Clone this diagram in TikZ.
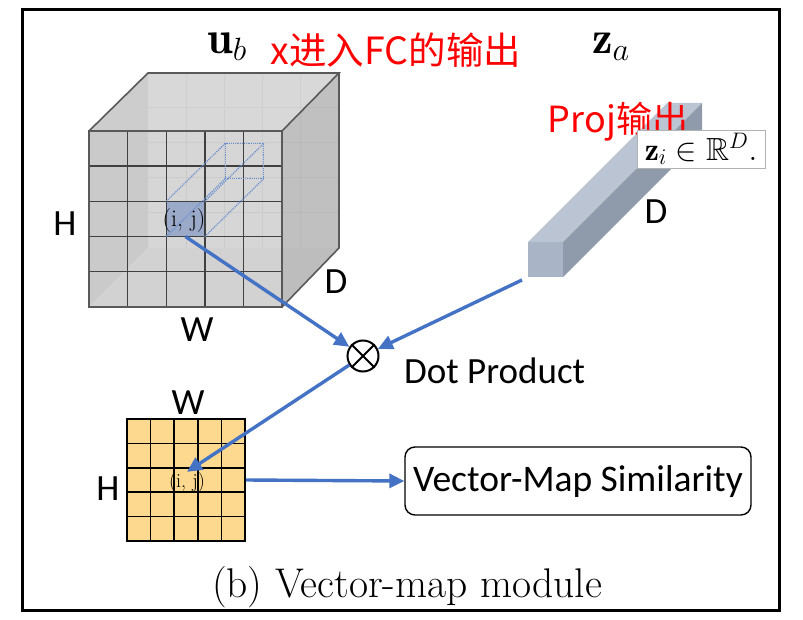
\RequirePackage{fix-cm}
\documentclass[tikz,border=0pt]{standalone}
\usepackage{fontspec}
\usepackage{amsmath,amssymb}
\usetikzlibrary{arrows.meta}
\newfontfamily\carl{Carlito}
\newfontfamily\cjk{Noto Sans CJK SC}
\definecolor{arrowblue}{HTML}{4472C4}
\definecolor{cellblue}{HTML}{9CAACA}
\definecolor{mapfill}{HTML}{FDD88F}
\definecolor{barfront}{HTML}{A9B4C6}
\definecolor{bartop}{HTML}{BAC4D2}
\definecolor{barside}{HTML}{8F9AAB}
\begin{document}
\begin{tikzpicture}[x=1pt,y=-1pt]
\tikzstyle{flow}=[draw=arrowblue,line width=3.4pt,-{Triangle[length=15pt,width=14pt]}]
\tikzstyle{lbl}=[font=\carl\fontsize{37}{40}\selectfont,inner sep=0pt]
\tikzstyle{redlbl}=[font=\cjk\fontsize{37.5}{40}\selectfont,text=red,inner sep=0pt]
\tikzstyle{mathlbl}=[font=\fontsize{46}{48}\selectfont,inner sep=0pt]
\tikzstyle{cubeline}=[draw=black!75,line width=1.4pt]
\tikzstyle{backline}=[draw=black!25,line width=1pt]
\tikzstyle{dotbar}=[draw=arrowblue!80,densely dotted,line width=1.2pt]
\useasboundingbox (0,0) rectangle (803,620);
\draw[line width=3pt] (22,10) rectangle (779,610);

% feature map cube
\fill[black!20] (148,73) rectangle (339,248);
\fill[black!26] (89,131) -- (148,73) -- (148,248) -- (89,307) -- cycle;
\fill[black!22] (89,307) -- (148,248) -- (339,248) -- (282,307) -- cycle;
\foreach \i in {1,...,4}
{\draw[backline] ({148+\i*38.2},73) -- ({148+\i*38.2},248);
 \draw[backline] (148,{73+\i*35}) -- (339,{73+\i*35});}
\fill[white,fill opacity=0.25] (89,131) -- (148,73) -- (339,73) -- (282,131) -- cycle;
\fill[black!30,fill opacity=0.45] (282,131) -- (339,73) -- (339,248) -- (282,307) -- cycle;
\fill[white,fill opacity=0.2] (89,131) rectangle (282,307);
\fill[cellblue] (166.2,201.4) rectangle (204.8,236.6);
\foreach \i in {1,...,4}
{\draw[cubeline] ({89+\i*38.6},131) -- ({89+\i*38.6},307);
 \draw[cubeline] (89,{131+\i*35.2}) -- (282,{131+\i*35.2});}
\draw[dotbar] (225.2,143.4) rectangle (263.8,178.6);
\draw[dotbar] (166.2,201.4) -- (225.2,143.4) (204.8,201.4) -- (263.8,143.4)
  (204.8,236.6) -- (263.8,178.6) (166.2,236.6) -- (225.2,178.6);
\draw[draw=black!65,line width=1.6pt] (89,131) rectangle (282,307)
  (89,131) -- (148,73) -- (339,73) -- (282,131) (339,73) -- (339,248) -- (282,307);
\node[font=\fontsize{24}{26}\selectfont,inner sep=0pt] at (184,221) {(i, j)};
\coordinate (ij) at (185.5,236.6);

% projection vector
\fill[bartop] (528,242) -- (667,103) -- (702,103) -- (563,242) -- cycle;
\fill[barside] (563,242) -- (702,103) -- (702,138) -- (563,277) -- cycle;
\fill[barfront] (528,242) rectangle (563,277);
\coordinate (barfoot) at (522,280);
\node[redlbl,font=\cjk\fontsize{36}{38}\selectfont] (proj) at (618,122) {Proj输出};
\node[draw=black!30,fill=white,minimum width=128,minimum height=38,inner sep=0pt,
  font=\fontsize{32}{34}\selectfont] (zi) at (701,149) {$\mathbf{z}_i \in \mathbb{R}^D.$};

% labels
\node[mathlbl] (ub) at (227,47) {$\mathbf{u}_b$};
\node[redlbl] (fc) at (396,50) {x进入FC的输出};
\node[mathlbl] (za) at (611,47) {$\mathbf{z}_a$};
\node[lbl] (cubeH) at (65,224) {H};
\node[lbl] (cubeW) at (197,330) {W};
\node[lbl] (cubeD) at (336,282) {D};
\node[lbl] (barD) at (656,212) {D};

% dot product
\node[circle,draw,line width=2pt,minimum size=31,inner sep=0pt] (dot) at (363,356) {};
\draw[line width=2pt] (dot.north west) -- (dot.south east) (dot.north east) -- (dot.south west);
\node[lbl,anchor=west] (dotlbl) at (404,371) {Dot Product};

% similarity map
\node[draw,line width=1.6pt,fill=mapfill,minimum width=118,minimum height=122,inner sep=0pt] (map) at (186,480) {};
\foreach \i in {1,...,4}
{\draw[line width=1.6pt] ({127+\i*23.6},419) -- ({127+\i*23.6},541);
 \draw[line width=1.6pt] (127,{419+\i*24.4}) -- (245,{419+\i*24.4});}
\node[font=\fontsize{20}{22}\selectfont,inner sep=1pt] (mapij) at (187,483) {(i, j)};
\node[lbl] (mapW) at (188,403) {W};
\node[lbl] (mapH) at (108,489) {H};

\node[draw,line width=1.4pt,rounded corners=10pt,minimum width=346,minimum height=68,
  font=\carl\fontsize{37.5}{40}\selectfont] (sim) at (578,481) {Vector-Map Similarity};

\path[flow] (ij) -- (dot);
\path[flow] (barfoot) -- (dot);
\path[flow] (dot) -- (mapij.north);
\path[flow] (map.east) -- (sim.west);

\node[font=\fontsize{41.5}{44}\selectfont,inner sep=0pt] (caption) at (407,587) {(b) Vector-map module};
\end{tikzpicture}
\end{document}
